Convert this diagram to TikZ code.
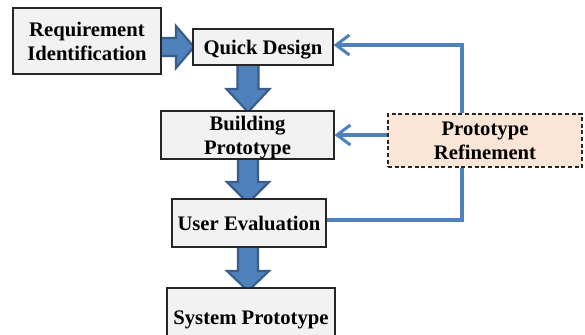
\documentclass[tikz,border=0pt]{standalone}
\usepackage{fontspec}
\setmainfont{Liberation Serif}
\usetikzlibrary{arrows.meta,calc}
\definecolor{linkblue}{HTML}{4F81BD}
\definecolor{darkblue}{HTML}{385D8A}
\definecolor{boxgray}{HTML}{F2F2F2}
\definecolor{peach}{HTML}{FBE5D6}
\begin{document}
\begin{tikzpicture}[x=0.75pt,y=-0.75pt,
  box/.style={draw=black!85,line width=0.8pt,fill=boxgray,align=center,inner sep=0pt,
    text depth=0pt,font=\fontsize{15.5}{18}\selectfont\bfseries},
  dbox/.style={box,fill=peach,dash pattern=on 3pt off 2pt},
  fatarrow/.style={draw=darkblue,fill=linkblue,line width=1.6pt,line join=miter},
  fbline/.style={draw=linkblue,line width=2.3pt,line join=miter},
  fbarrow/.style={fbline,-{Straight Barb[length=10pt,width=15pt]}}]
\useasboundingbox (0,0) rectangle (585,335);
% fat arrows (behind boxes)
\draw[fatarrow] (158,38) -- (176,38) -- (176,26) -- (194,47) -- (176,68) -- (176,56) -- (158,56) -- cycle;
\draw[fatarrow] (237.5,63) -- (237.5,89) -- (226.5,89) -- (248,112) -- (269.5,89) -- (258.5,89) -- (258.5,63) -- cycle;
\draw[fatarrow] (238,156) -- (238,182) -- (227,182) -- (248,203) -- (269,182) -- (258,182) -- (258,156) -- cycle;
\draw[fatarrow] (238,244) -- (238,271) -- (227,271) -- (248,291) -- (269,271) -- (258,271) -- (258,244) -- cycle;
% boxes
\node[box,minimum width=111pt,minimum height=49.5pt] (req) at (87,41) {Requirement\\Identification};
\node[box,minimum width=105pt,minimum height=27pt] (qd) at (263,47) {Quick Design};
\node[box,minimum width=129.75pt,minimum height=36pt] (bp) at (247.5,135) {Building\\Prototype};
\node[box,minimum width=115.5pt,minimum height=36pt] (ue) at (249,223) {User Evaluation};
\node[box,minimum width=126pt,minimum height=45pt] (sp) at (251,318) {System Prototype};
\node[dbox,minimum width=145.5pt,minimum height=39.75pt] (pr) at (485,140.5) {Prototype\\Refinement};
% feedback connectors
\coordinate (fbtop) at (462,45);
\coordinate (fbbot) at (462,220);
\draw[fbarrow] (pr.north -| fbtop) -- (fbtop) -- (qd.east |- fbtop);
\draw[fbarrow] (pr.west |- bp.east) -- (bp.east);
\draw[fbline] (ue.east |- fbbot) -- (fbbot) -- (pr.south -| fbbot);
\end{tikzpicture}
\end{document}
